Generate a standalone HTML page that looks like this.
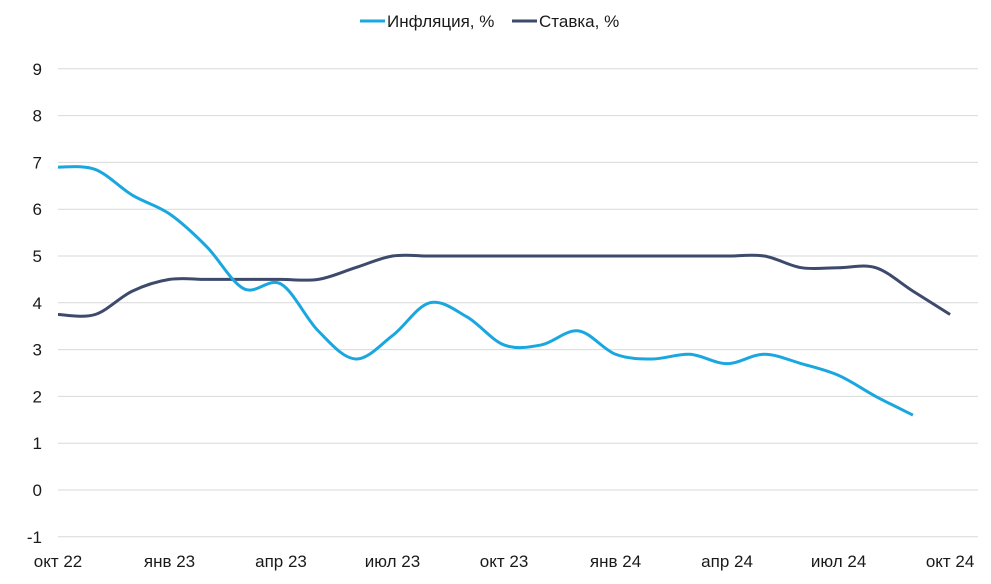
<!DOCTYPE html>
<html><head><meta charset="utf-8"><style>
body{margin:0;background:#fff;width:991px;height:579px;overflow:hidden}
svg text{font-family:"Liberation Sans",sans-serif;font-size:17px;fill:#1a1a1a}
</style></head><body>
<svg id="s" width="991" height="579" xmlns="http://www.w3.org/2000/svg">
<g id="grid"></g>
<line x1="360" y1="21" x2="385" y2="21" stroke="#1aa7e0" stroke-width="3"/>
<text x="387" y="27">Инфляция, %</text>
<line x1="512" y1="21" x2="537" y2="21" stroke="#3d4a6b" stroke-width="3"/>
<text x="539" y="27">Ставка, %</text>
<path id="rate" fill="none" stroke="#3d4a6b" stroke-width="3"/>
<path id="inf" fill="none" stroke="#1aa7e0" stroke-width="3"/>
</svg>
<script>
var g=document.getElementById('grid'),ns='http://www.w3.org/2000/svg',h='';
function Y(v){return 490-46.8*v}
for(var v=-1;v<=9;v++){var y=Y(v);h+='<line x1="58" x2="978" y1="'+y+'" y2="'+y+'" stroke="#d9d9d9" stroke-width="1"/>';h+='<text x="42" y="'+(y+6)+'" text-anchor="end">'+v+'</text>';}
var L=['окт 22','янв 23','апр 23','июл 23','окт 23','янв 24','апр 24','июл 24','окт 24'];
for(var i=0;i<9;i++){h+='<text x="'+(58+i*3*37.17)+'" y="567" text-anchor="middle">'+L[i]+'</text>';}
g.innerHTML=h;
function path(d){var p=d.map(function(v,i){return [58+i*37.17,Y(v)]});var s='M'+p[0][0]+','+p[0][1];
for(var i=0;i<p.length-1;i++){var a=p[i-1]||p[i],b=p[i],c=p[i+1],e=p[i+2]||c;
s+=' C'+(b[0]+(c[0]-a[0])/6)+','+(b[1]+(c[1]-a[1])/6)+' '+(c[0]-(e[0]-b[0])/6)+','+(c[1]-(e[1]-b[1])/6)+' '+c[0]+','+c[1];}return s}
document.getElementById('inf').setAttribute('d',path([6.9,6.85,6.3,5.9,5.2,4.3,4.4,3.4,2.8,3.3,4.0,3.7,3.1,3.1,3.4,2.9,2.8,2.9,2.7,2.9,2.7,2.45,2.0,1.6]));
document.getElementById('rate').setAttribute('d',path([3.75,3.75,4.25,4.5,4.5,4.5,4.5,4.5,4.75,5,5,5,5,5,5,5,5,5,5,5,4.75,4.75,4.75,4.25,3.75]));
</script>
</body></html>
